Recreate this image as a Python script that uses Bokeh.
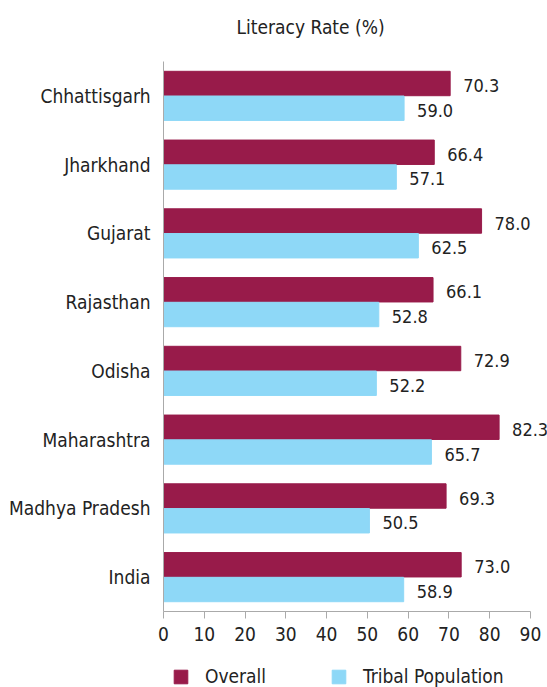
from bokeh.plotting import figure
from bokeh.layouts import column
from bokeh.models import (FactorRange, Range1d, ColumnDataSource, Legend, LegendItem,
                          Title, FixedTicker, LabelSet)
from bokeh.transform import dodge
from bokeh.core.properties import value
from bokeh.embed import file_html
from bokeh.resources import INLINE

states = ["Chhattisgarh", "Jharkhand", "Gujarat", "Rajasthan", "Odisha",
          "Maharashtra", "Madhya Pradesh", "India"]
overall = [70.3, 66.4, 78.0, 66.1, 72.9, 82.3, 69.3, 73.0]
tribal = [59.0, 57.1, 62.5, 52.8, 52.2, 65.7, 50.5, 58.9]
x_ticks = [0, 10, 20, 30, 40, 50, 60, 70, 80, 90]
series = ["Overall", "Tribal Population"]
chart_title = "Literacy Rate (%)"

FONT = "DejaVu Sans Condensed, Roboto, sans-serif"
FS = "19px"
MAROON = "#981B4A"
BLUE = "#8ED8F7"
TXT = "#222222"

src = ColumnDataSource(dict(
    state=states, overall=overall, tribal=tribal,
    overall_lbl=["%.1f" % v for v in overall],
    tribal_lbl=["%.1f" % v for v in tribal],
))

# title strip
tfig = figure(width=547, height=61, output_backend="svg", toolbar_location=None,
              x_axis_location=None, y_axis_location=None, min_border=0,
              x_range=Range1d(0, 1), y_range=Range1d(0, 1))
tfig.outline_line_color = None
tfig.xgrid.visible = False
tfig.ygrid.visible = False
tfig.title = Title(text=chart_title, align="left", offset=73,
                   text_font=FONT, text_font_size=FS, text_font_style="normal",
                   text_color=TXT, standoff=26)

# main chart
p = figure(width=547, height=589, output_backend="svg", toolbar_location=None,
           y_range=FactorRange(factors=list(reversed(states)), range_padding=0),
           x_range=(0, 94.17), min_border_left=163, min_border_right=0,
           min_border_bottom=39, min_border_top=0)

p.hbar(y=dodge("state", 0.18, range=p.y_range), right="overall", left=0,
       height=0.355, color=MAROON, source=src)
p.hbar(y=dodge("state", -0.18, range=p.y_range), right="tribal", left=0,
       height=0.355, color=BLUE, source=src)

for col, lbl, dy in (("overall", "overall_lbl", 0.18), ("tribal", "tribal_lbl", -0.18)):
    p.add_layout(LabelSet(x=col, y=dodge("state", dy, range=p.y_range), text=lbl,
                          source=src, x_offset=13, y_offset=-2,
                          text_baseline="middle", text_font=value(FONT),
                          text_font_size=value("18px"), text_color=TXT))

p.xgrid.visible = False
p.ygrid.visible = False
p.outline_line_color = None

p.xaxis.ticker = FixedTicker(ticks=x_ticks)
p.xaxis.bounds = (0, 90)
p.xaxis.axis_line_color = "#aaaaaa"
p.xaxis.major_tick_line_color = "#aaaaaa"
p.xaxis.major_tick_out = 7
p.xaxis.major_tick_in = 0
p.xaxis.minor_tick_line_color = None
p.xaxis.major_label_text_font = FONT
p.xaxis.major_label_text_font_size = FS
p.xaxis.major_label_text_color = TXT
p.xaxis.major_label_standoff = 8

p.yaxis.axis_line_color = "#aaaaaa"
p.yaxis.major_tick_line_color = None
p.yaxis.major_tick_out = 0
p.yaxis.major_tick_in = 0
p.yaxis.minor_tick_line_color = None
p.yaxis.major_label_text_font = FONT
p.yaxis.major_label_text_font_size = FS
p.yaxis.major_label_text_color = TXT
p.yaxis.major_label_standoff = 13

# legend strip below the chart (its bars fall outside its view; only the legend shows)
leg = figure(width=547, height=37, output_backend="svg", toolbar_location=None,
             x_axis_location=None, y_axis_location=None, min_border=0,
             x_range=Range1d(-2, -1), y_range=FactorRange(factors=states))
leg.outline_line_color = None
leg.xgrid.visible = False
leg.ygrid.visible = False
lr1 = leg.hbar(y="state", right="overall", left=0, height=0.3, color=MAROON, source=src)
lr2 = leg.hbar(y="state", right="tribal", left=0, height=0.3, color=BLUE, source=src)

legend = Legend(items=[LegendItem(label=series[0], renderers=[lr1], index=0),
                       LegendItem(label=series[1], renderers=[lr2], index=0)],
                location=(9, 0), orientation="horizontal",
                glyph_width=17, glyph_height=17, label_standoff=16,
                label_width=110, spacing=15, padding=0, margin=0,
                border_line_color=None, background_fill_alpha=0,
                label_text_font=FONT, label_text_font_size=FS,
                label_text_color=TXT)
leg.add_layout(legend, "center")

open("out.html", "w").write(file_html(column(tfig, p, leg, spacing=0), INLINE))
